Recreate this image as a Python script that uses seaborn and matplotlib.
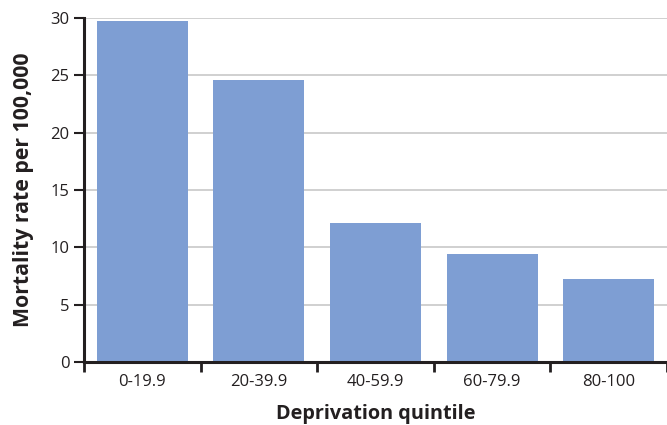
import numpy as np
import pandas as pd
import matplotlib
matplotlib.use('Agg')
import matplotlib.pyplot as plt
import seaborn as sns

# values
quintiles = ['0-19.9', '20-39.9', '40-59.9', '60-79.9', '80-100']
mortality = [29.7, 24.6, 12.15, 9.45, 7.25]

df = pd.DataFrame({'quintile': quintiles, 'rate': mortality})

sns.set_style('white')
plt.rcParams['font.family'] = ['Open Sans', 'DejaVu Sans']

fig = plt.figure(figsize=(6.67, 4.25), dpi=100)
ax = fig.add_axes([84 / 667, 63 / 425, 583 / 667, 344 / 425])

sns.barplot(data=df, x='quintile', y='rate', color='#7e9ed3', saturation=1,
            width=0.78, linewidth=0, ax=ax, zorder=2)

ax.set_ylim(0, 30)
ax.set_xlim(-0.5, 4.45)
ax.set_yticks([0, 5, 10, 15, 20, 25, 30])
ax.yaxis.grid(True, color='#c8c8c8', linewidth=1.2, zorder=0)
ax.set_axisbelow(True)

# tick marks sit on category boundaries, labels centred on the bars
ax.set_xticks(np.arange(len(quintiles)))
ax.set_xticklabels(quintiles)
ax.set_xticks(np.arange(len(quintiles) + 1) - 0.5, minor=True)
ax.tick_params(axis='x', which='both', bottom=True)
ax.tick_params(axis='x', which='major', length=0, pad=9, labelsize=12, colors='#231f20')
ax.tick_params(axis='x', which='minor', length=7, width=2, direction='out', color='#231f20')
ax.tick_params(axis='y', left=True, length=7, width=1.5, direction='out', labelsize=12, colors='#231f20')

for side in ['top', 'right']:
    ax.spines[side].set_visible(False)
for side in ['left', 'bottom']:
    ax.spines[side].set_linewidth(2.2)
    ax.spines[side].set_color('#231f20')

ax.set_xlabel('Deprivation quintile', fontsize=14.3, fontweight='bold', color='#231f20', labelpad=10)
ax.set_ylabel('Mortality rate per 100,000', fontsize=15.3, fontweight='bold', color='#231f20', labelpad=12)

fig.savefig('out.png', dpi=100)
